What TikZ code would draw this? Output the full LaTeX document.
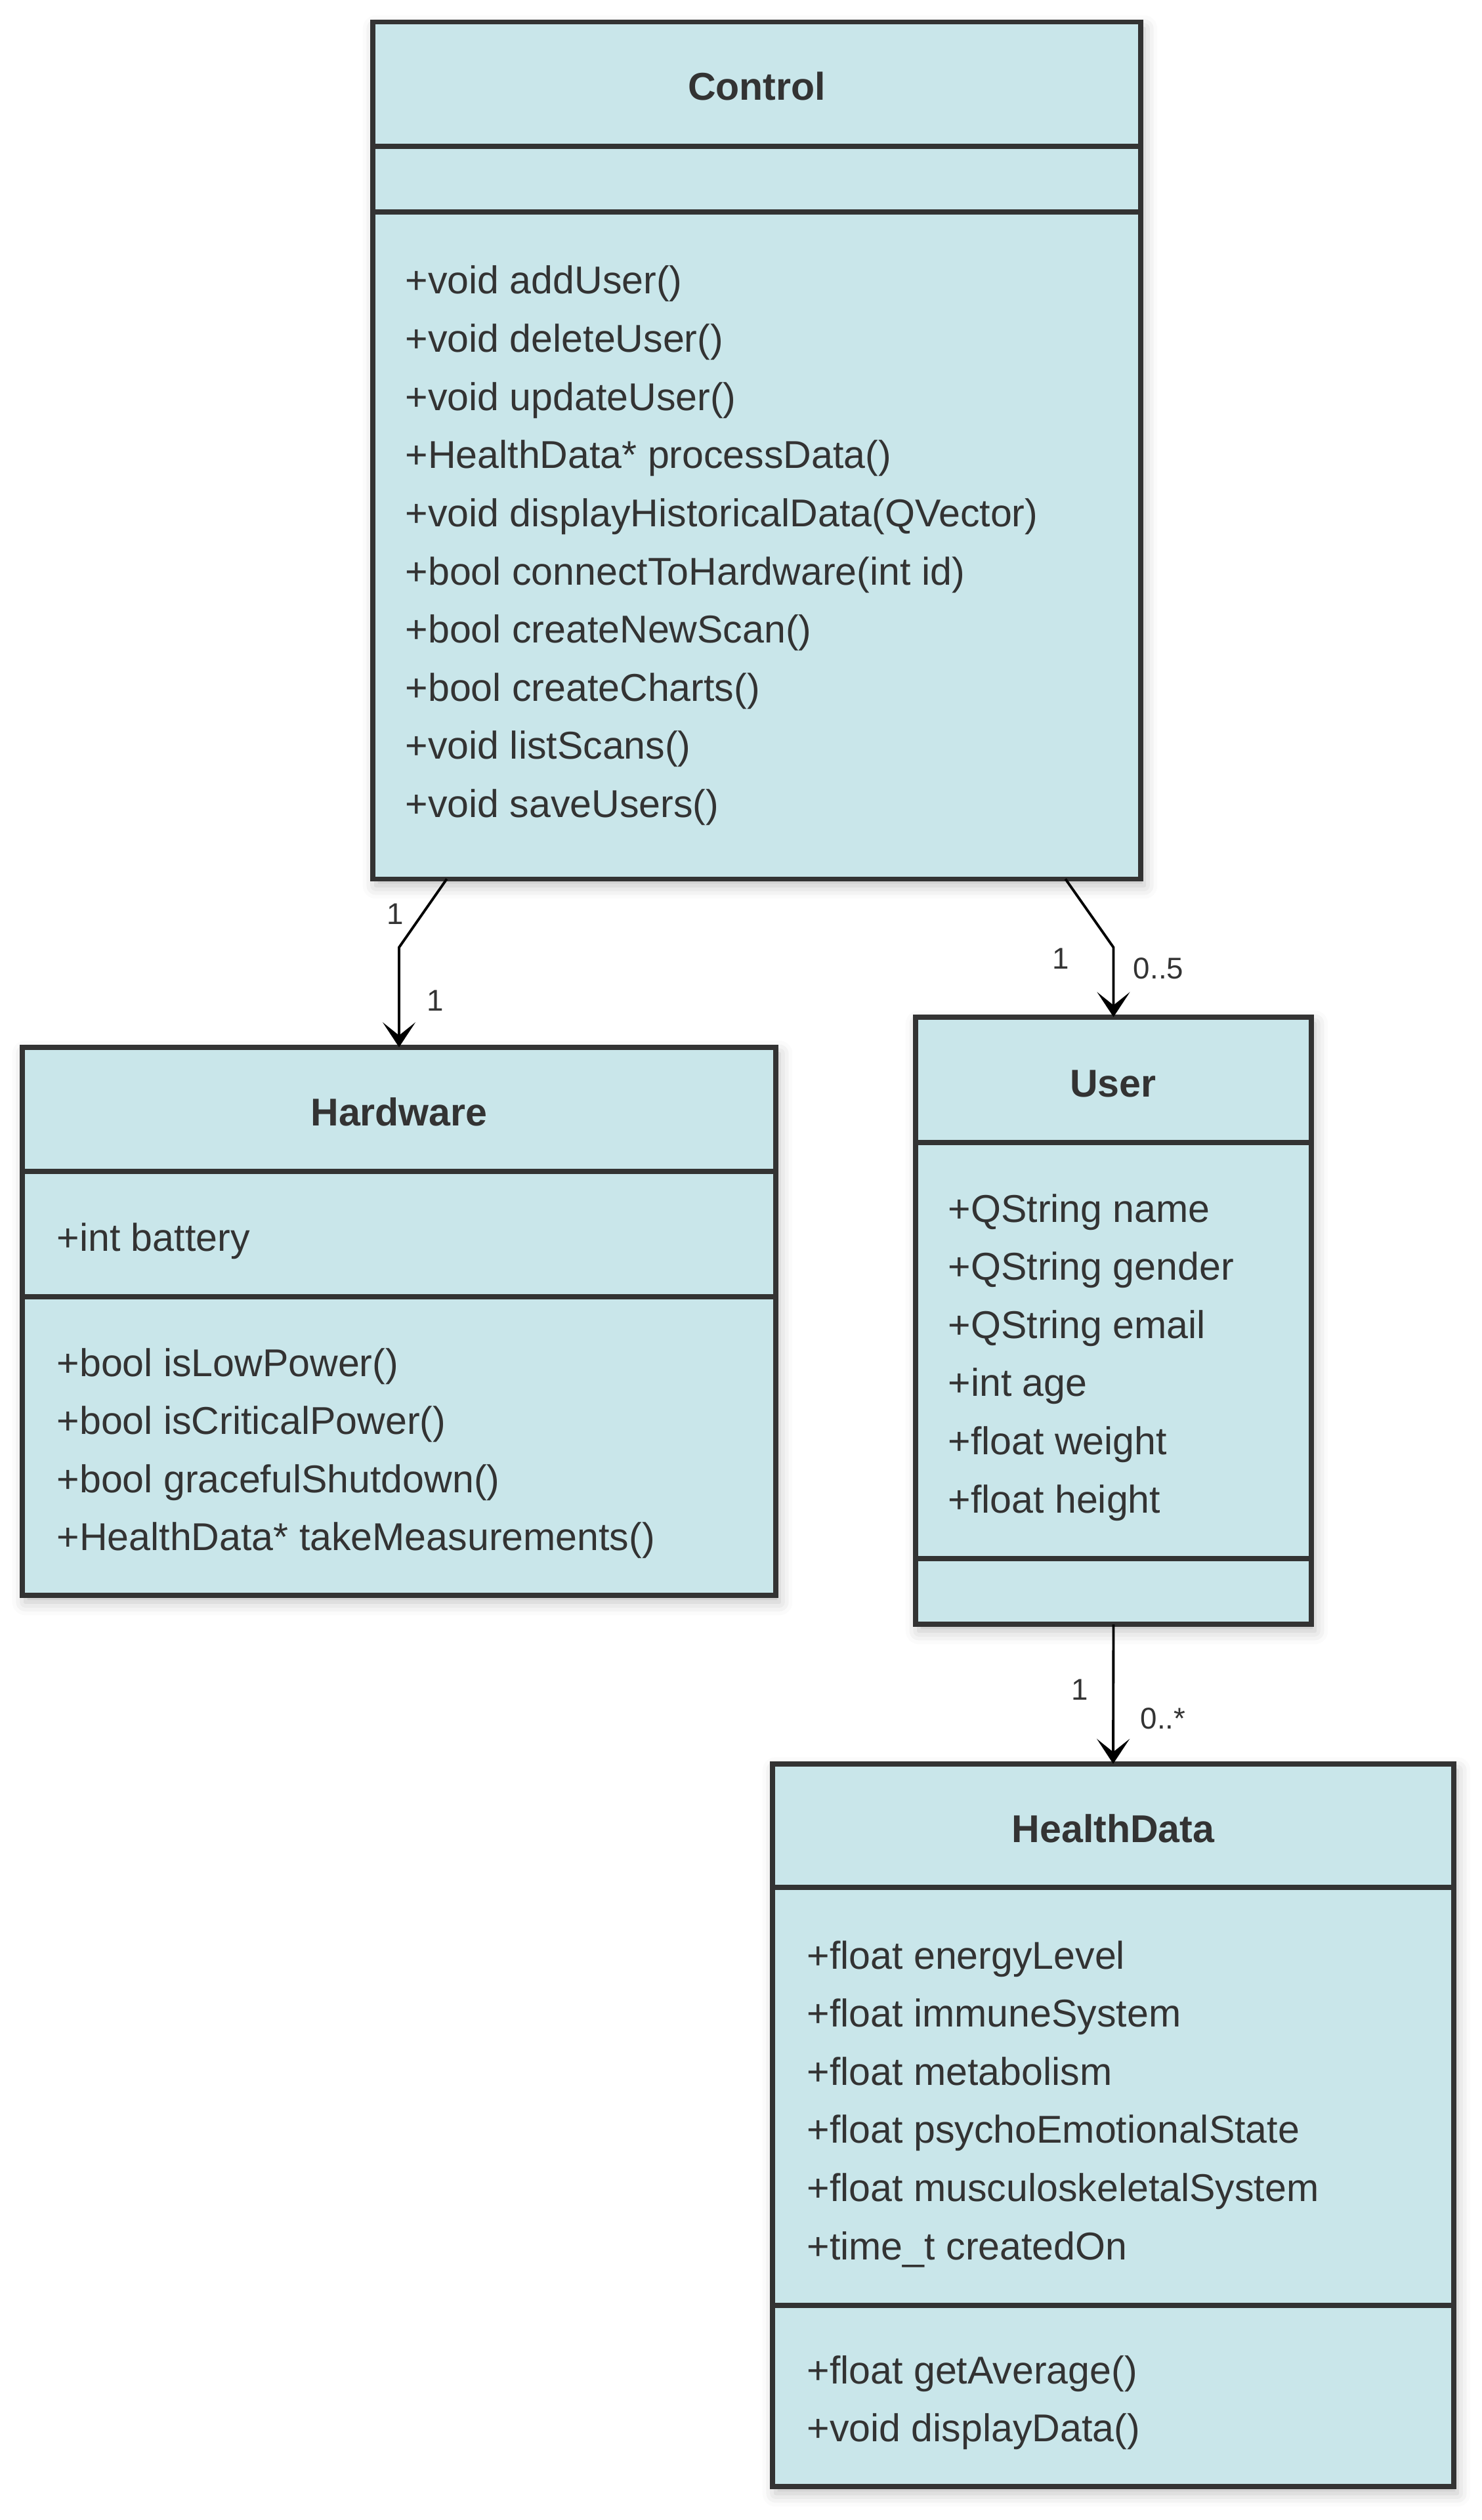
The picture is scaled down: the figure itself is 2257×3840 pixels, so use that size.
\documentclass[tikz,border=0pt]{standalone}
\usepackage{fontspec}
\setmainfont{Liberation Sans}
\usepackage{tikz}
\usetikzlibrary{arrows.meta,shadows.blur}
\definecolor{boxfill}{RGB}{201,230,234}
\definecolor{boxline}{RGB}{51,51,51}
\definecolor{textgrey}{RGB}{51,51,51}
\tikzset{%
    classbox/.style={%
        draw=boxline, line width=2.2pt, fill=boxfill, inner sep=0pt, outer sep=0pt,
        blur shadow={shadow xshift=0.05cm, shadow yshift=-0.1cm,
            shadow blur radius=0.2cm, shadow opacity=25}
    },
    sep/.style={draw=boxline, line width=2.2pt},
    member/.style={anchor=base west, inner sep=0pt, text=textgrey,
        font=\fontsize{16.8}{20}\selectfont},
    title/.style={anchor=base, inner sep=0pt, text=textgrey,
        font=\fontsize{16.8}{20}\selectfont\bfseries},
    mult/.style={inner sep=0pt, text=textgrey, font=\fontsize{13}{15}\selectfont},
    assoc/.style={draw=black, line width=1.1pt,
        -{Stealth[length=0.38cm, width=0.5cm, inset=0.2cm]}}
}

\begin{document}
\begin{tikzpicture}[x=0.01cm, y=-0.01cm]
    \useasboundingbox (0,0) rectangle (2257,3840);
    % class boxes
    \node[classbox, minimum width=11.70cm, minimum height=13.05cm] (control) at (1153,686.5) {};
    \node[classbox, minimum width=11.48cm, minimum height=8.35cm] (hardware) at (608,2013.5) {};
    \node[classbox, minimum width=6.03cm, minimum height=9.25cm] (user) at (1696.5,2012.5) {};
    \node[classbox, minimum width=10.38cm, minimum height=11.01cm] (healthdata) at (1696,3238.5) {};
    % compartments
    \draw[sep] (control.west |- 0,223) -- (control.east |- 0,223);
    \draw[sep] (control.west |- 0,323) -- (control.east |- 0,323);
    \draw[sep] (hardware.west |- 0,1785) -- (hardware.east |- 0,1785);
    \draw[sep] (hardware.west |- 0,1976) -- (hardware.east |- 0,1976);
    \draw[sep] (user.west |- 0,1741) -- (user.east |- 0,1741);
    \draw[sep] (user.west |- 0,2375) -- (user.east |- 0,2375);
    \draw[sep] (healthdata.west |- 0,2876) -- (healthdata.east |- 0,2876);
    \draw[sep] (healthdata.west |- 0,3513) -- (healthdata.east |- 0,3513);
    % titles
    \node[title] (control-t) at (1153,153) {Control};
    \node[title] (hardware-t) at (608,1715) {Hardware};
    \node[title] (user-t) at (1696,1671) {User};
    \node[title] (healthdata-t) at (1696,2807) {HealthData};
    % members
    \foreach \m [count=\i from 0] in {{+void addUser()},{+void deleteUser()},{+void updateUser()},
        {+HealthData* processData()},{+void displayHistoricalData(QVector)},
        {+bool connectToHardware(int id)},{+bool createNewScan()},{+bool createCharts()},
        {+void listScans()},{+void saveUsers()}}
    {
    \node[member] (control-m\i) at (617,{448+\i*88.6}) {\m};
    }
    \node[member] (hardware-a0) at (86,1906) {+int battery};
    \foreach \m [count=\i from 0] in {{+bool isLowPower()},{+bool isCriticalPower()},
        {+bool gracefulShutdown()},{+HealthData* takeMeasurements()}}
    {
    \node[member] (hardware-m\i) at (86,{2097+\i*88.6}) {\m};
    }
    \foreach \m [count=\i from 0] in {{+QString name},{+QString gender},{+QString email},
        {+int age},{+float weight},{+float height}}
    {
    \node[member] (user-a\i) at (1444,{1862+\i*88.6}) {\m};
    }
    \foreach \m [count=\i from 0] in {{+float energyLevel},{+float immuneSystem},{+float metabolism},
        {+float psychoEmotionalState},{+float musculoskeletalSystem},{+time\_t createdOn}}
    {
    \node[member] (healthdata-a\i) at (1229,{3000+\i*88.6}) {\m};
    }
    \node[member] (healthdata-m0) at (1229,3632) {+float getAverage()};
    \node[member] (healthdata-m1) at (1229,3720) {+void displayData()};
    % associations
    \draw[assoc] ([xshift=1.13cm]control.south west) -- ([yshift=1.52cm]hardware.north) -- (hardware.north);
    \draw[assoc] ([xshift=-1.15cm]control.south east) -- ([yshift=1.06cm]user.north) -- (user.north);
    \draw[assoc] (user.south) -- (healthdata.north);
    \node[mult] (ch-src) at (602,1393) {1};
    \node[mult] (ch-dst) at (663,1525) {1};
    \node[mult] (cu-src) at (1616,1461) {1};
    \node[mult] (cu-dst) at (1765,1476) {0..5};
    \node[mult] (uh-src) at (1645,2575) {1};
    \node[mult] (uh-dst) at (1772,2619) {0..*};
\end{tikzpicture}
\end{document}
